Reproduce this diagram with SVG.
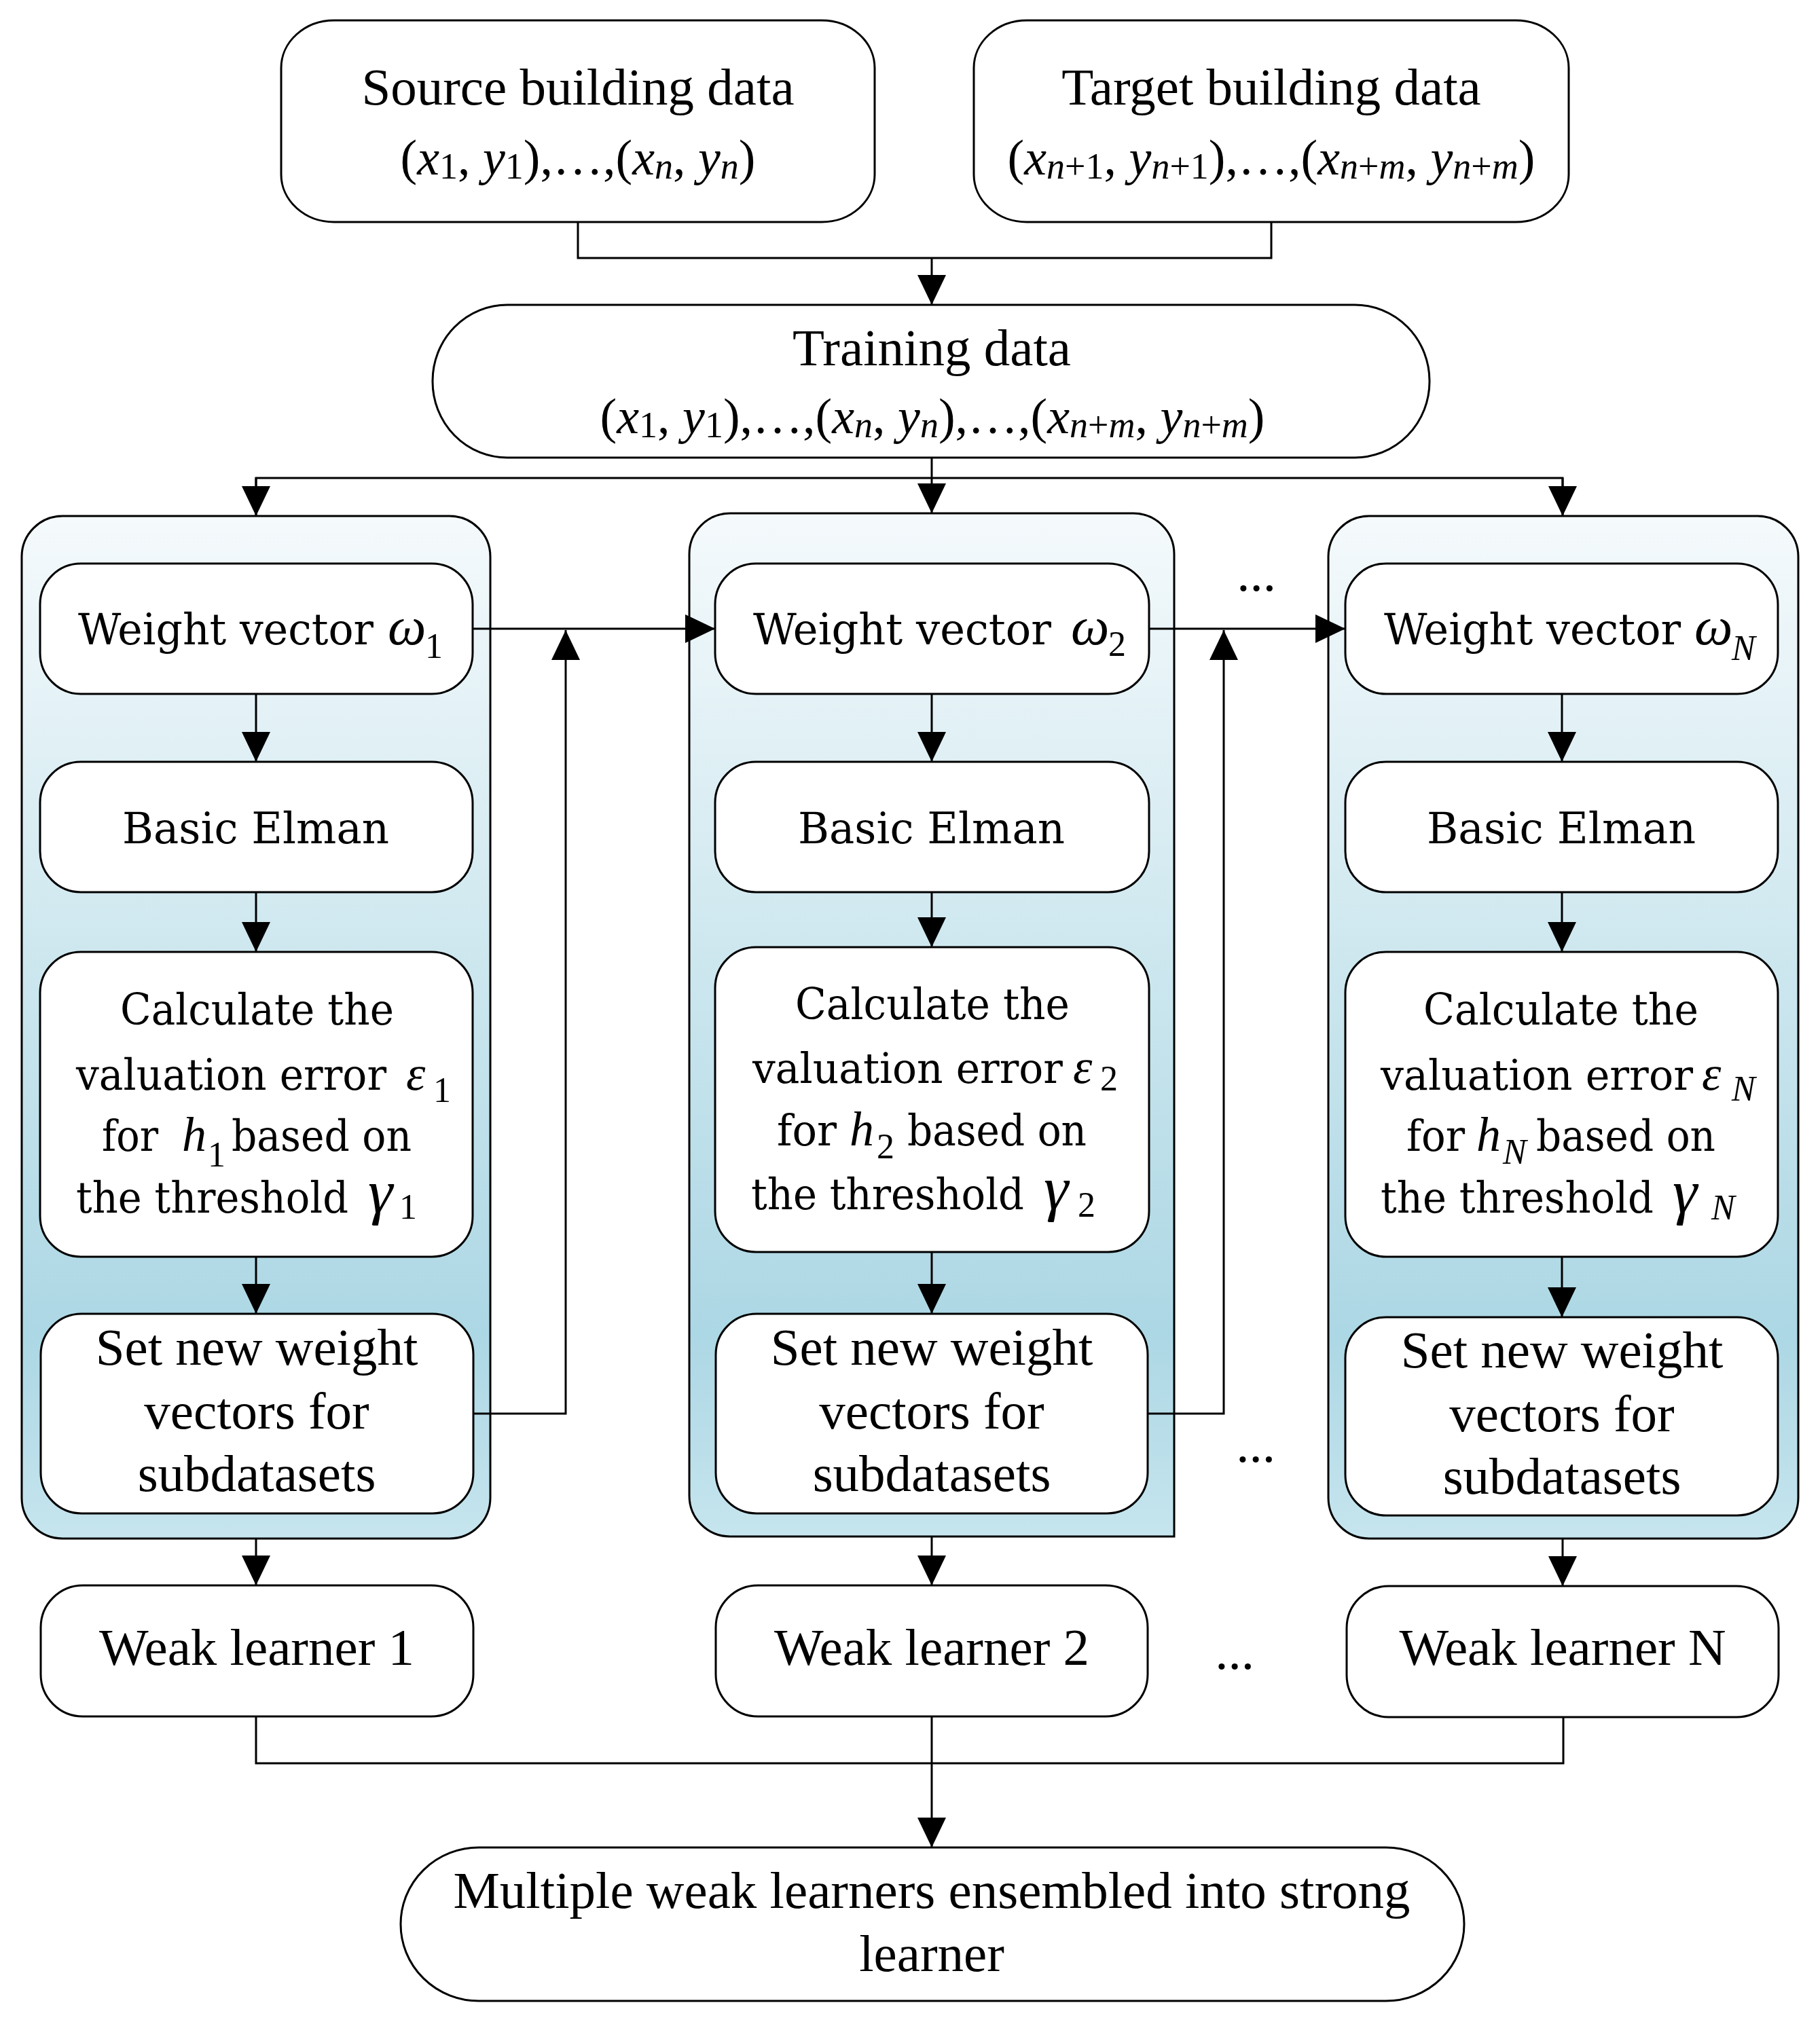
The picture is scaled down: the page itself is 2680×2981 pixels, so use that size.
<svg xmlns="http://www.w3.org/2000/svg" width="2680" height="2981" viewBox="0 0 2680 2981">
<defs>
<linearGradient id="cg" x1="0" y1="0" x2="0" y2="1">
<stop offset="0" stop-color="#f5fafc"/>
<stop offset="0.8" stop-color="#acd7e4"/>
<stop offset="1" stop-color="#c6e5ee"/>
</linearGradient>
<marker id="ah" markerUnits="userSpaceOnUse" markerWidth="46" markerHeight="42" refX="44" refY="21" orient="auto">
<path d="M0,0 L44,21 L0,42 Z" fill="#000"/>
</marker>
<style>
.box{fill:#fff;stroke:#000;stroke-width:3}
.cont{fill:url(#cg);stroke:#000;stroke-width:3}
.ln{fill:none;stroke:#000;stroke-width:3}
.ar{fill:none;stroke:#000;stroke-width:3;marker-end:url(#ah)}
.t{font-family:"Liberation Serif","Times New Roman",serif;font-size:77px;fill:#000;text-anchor:middle}
.m{font-family:"Liberation Serif","Times New Roman",serif;font-size:74px;fill:#000;text-anchor:middle}
.w{font-family:"DejaVu Serif",serif;font-size:64px;fill:#000}
.v{font-family:"DejaVu Serif",serif;font-size:61px;fill:#000}
.g{font-family:"Liberation Serif","Times New Roman",serif;font-style:italic;font-size:80px;fill:#000}
.h{font-family:"Liberation Serif","Times New Roman",serif;font-style:italic;font-size:72px;fill:#000}
.e{font-family:"Liberation Serif","Times New Roman",serif;font-style:italic;font-size:72px;fill:#000}
.gg{font-family:"Liberation Serif","Times New Roman",serif;font-style:italic;font-size:92px;fill:#000}
.s{font-style:normal;font-size:52px}
.si{font-style:italic;font-size:52px}
.i{font-style:italic}
</style>
</defs>
<rect width="2680" height="2981" fill="#fff"/>

<g id="containers">
<rect id="container1" class="cont" x="32" y="760" width="690" height="1506" rx="60" ry="60"/>
<path id="container2" class="cont" d="M1075,756 H1669 A60,60 0 0 1 1729,816 V2263 H1075 A60,60 0 0 1 1015,2203 V816 A60,60 0 0 1 1075,756 Z"/>
<rect id="containerN" class="cont" x="1956" y="760" width="692" height="1506" rx="60" ry="60"/>
</g>

<g id="connectors">
<polyline class="ln" points="851,327 851,380 1872,380 1872,327"/>
<line class="ar" x1="1372" y1="380" x2="1372" y2="449"/>
<line class="ar" x1="1372" y1="674" x2="1372" y2="756"/>
<polyline class="ln" points="377,758 377,704 2301,704 2301,758"/>
<line class="ar" x1="377" y1="704" x2="377" y2="760"/>
<line class="ar" x1="2301" y1="704" x2="2301" y2="760"/>

<line class="ar" x1="377" y1="1022" x2="377" y2="1122"/>
<line class="ar" x1="377" y1="1314" x2="377" y2="1402"/>
<line class="ar" x1="377" y1="1851" x2="377" y2="1935"/>
<line class="ar" x1="377" y1="2266" x2="377" y2="2335"/>

<line class="ar" x1="1372" y1="1022" x2="1372" y2="1122"/>
<line class="ar" x1="1372" y1="1314" x2="1372" y2="1395"/>
<line class="ar" x1="1372" y1="1844" x2="1372" y2="1935"/>
<line class="ar" x1="1372" y1="2263" x2="1372" y2="2335"/>

<line class="ar" x1="2300" y1="1022" x2="2300" y2="1122"/>
<line class="ar" x1="2300" y1="1314" x2="2300" y2="1402"/>
<line class="ar" x1="2300" y1="1851" x2="2300" y2="1940"/>
<line class="ar" x1="2301" y1="2266" x2="2301" y2="2336"/>

<line class="ar" x1="696" y1="926" x2="1053" y2="926"/>
<polyline class="ar" points="697,2082 833,2082 833,928"/>
<line class="ar" x1="1692" y1="926" x2="1981" y2="926"/>
<polyline class="ar" points="1690,2082 1802,2082 1802,928"/>

<polyline class="ln" points="377,2528 377,2597 2302,2597 2302,2529"/>
<line class="ar" x1="1372" y1="2528" x2="1372" y2="2721"/>
</g>

<g id="source">
<rect class="box" x="414" y="30" width="874" height="297" rx="78" ry="70"/>
<text class="t" x="851" y="154">Source building data</text>
<text class="m" x="851" y="257">(<tspan class="i">x</tspan><tspan font-size="54" dy="6">1</tspan><tspan dy="-6">, </tspan><tspan class="i">y</tspan><tspan font-size="54" dy="6">1</tspan><tspan dy="-6">),…,(</tspan><tspan class="i">x</tspan><tspan class="i" font-size="54" dy="6">n</tspan><tspan dy="-6">, </tspan><tspan class="i">y</tspan><tspan class="i" font-size="54" dy="6">n</tspan><tspan dy="-6">)</tspan></text>
</g>

<g id="target">
<rect class="box" x="1434" y="30" width="876" height="297" rx="78" ry="70"/>
<text class="t" x="1872" y="154">Target building data</text>
<text class="m" x="1872" y="257">(<tspan class="i">x</tspan><tspan class="i" font-size="54" dy="6">n</tspan><tspan font-size="54">+1</tspan><tspan dy="-6">, </tspan><tspan class="i">y</tspan><tspan class="i" font-size="54" dy="6">n</tspan><tspan font-size="54">+1</tspan><tspan dy="-6">),…,(</tspan><tspan class="i">x</tspan><tspan class="i" font-size="54" dy="6">n</tspan><tspan font-size="54">+</tspan><tspan class="i" font-size="54">m</tspan><tspan dy="-6">, </tspan><tspan class="i">y</tspan><tspan class="i" font-size="54" dy="6">n</tspan><tspan font-size="54">+</tspan><tspan class="i" font-size="54">m</tspan><tspan dy="-6">)</tspan></text>
</g>

<g id="training">
<rect class="box" x="637" y="449" width="1468" height="225" rx="110" ry="112"/>
<text class="t" x="1372" y="538">Training data</text>
<text class="m" x="1373" y="638">(<tspan class="i">x</tspan><tspan font-size="54" dy="6">1</tspan><tspan dy="-6">, </tspan><tspan class="i">y</tspan><tspan font-size="54" dy="6">1</tspan><tspan dy="-6">),…,(</tspan><tspan class="i">x</tspan><tspan class="i" font-size="54" dy="6">n</tspan><tspan dy="-6">, </tspan><tspan class="i">y</tspan><tspan class="i" font-size="54" dy="6">n</tspan><tspan dy="-6">),…,(</tspan><tspan class="i">x</tspan><tspan class="i" font-size="54" dy="6">n</tspan><tspan font-size="54">+</tspan><tspan class="i" font-size="54">m</tspan><tspan dy="-6">, </tspan><tspan class="i">y</tspan><tspan class="i" font-size="54" dy="6">n</tspan><tspan font-size="54">+</tspan><tspan class="i" font-size="54">m</tspan><tspan dy="-6">)</tspan></text>
</g>

<!-- Column 1 -->
<g id="weight1">
<rect class="box" x="59" y="830" width="637" height="192" rx="60" ry="60"/>
<text class="w" x="115" y="949" textLength="435" lengthAdjust="spacingAndGlyphs">Weight vector</text>
<text class="g" x="571" y="949">ω<tspan class="s" x="626" dy="20">1</tspan></text>
</g>
<g id="elman1">
<rect class="box" x="59" y="1122" width="637" height="192" rx="60" ry="60"/>
<text class="w" x="180" y="1242" textLength="393" lengthAdjust="spacingAndGlyphs">Basic Elman</text>
</g>
<g id="calc1">
<rect class="box" x="59" y="1402" width="637" height="449" rx="60" ry="60"/>
<text class="w" x="177" y="1509" textLength="403" lengthAdjust="spacingAndGlyphs">Calculate the</text>
<text class="w" x="112" y="1605" textLength="457" lengthAdjust="spacingAndGlyphs">valuation error</text>
<text class="e" x="598" y="1605">ε<tspan class="s" x="638" dy="18">1</tspan></text>
<text class="w" x="150" y="1695" textLength="83" lengthAdjust="spacingAndGlyphs">for</text>
<text class="h" x="268" y="1695">h<tspan class="s" x="306" dy="23">1</tspan></text>
<text class="w" x="341" y="1695" textLength="265" lengthAdjust="spacingAndGlyphs">based on</text>
<text class="w" x="112" y="1786" textLength="401" lengthAdjust="spacingAndGlyphs">the threshold</text>
<text class="gg" x="542" y="1786">γ<tspan class="s" x="588" dy="9">1</tspan></text>
</g>
<g id="set1">
<rect class="box" x="60" y="1935" width="637" height="294" rx="60" ry="60"/>
<text class="t" x="378" y="2010">Set new weight</text>
<text class="t" x="378" y="2104">vectors for</text>
<text class="t" x="378" y="2196">subdatasets</text>
</g>
<g id="weak1">
<rect class="box" x="60" y="2335" width="637" height="193" rx="62" ry="62"/>
<text class="t" x="378" y="2452">Weak learner 1</text>
</g>

<!-- Column 2 -->
<g id="weight2">
<rect class="box" x="1053" y="830" width="639" height="192" rx="60" ry="60"/>
<text class="w" x="1109" y="949" textLength="439" lengthAdjust="spacingAndGlyphs">Weight vector</text>
<text class="g" x="1577" y="949">ω<tspan class="s" x="1632" dy="17">2</tspan></text>
</g>
<g id="elman2">
<rect class="box" x="1053" y="1122" width="639" height="192" rx="60" ry="60"/>
<text class="w" x="1175" y="1242" textLength="393" lengthAdjust="spacingAndGlyphs">Basic Elman</text>
</g>
<g id="calc2">
<rect class="box" x="1053" y="1395" width="639" height="449" rx="60" ry="60"/>
<text class="w" x="1171" y="1501" textLength="404" lengthAdjust="spacingAndGlyphs">Calculate the</text>
<text class="v" x="1108" y="1595" textLength="457" lengthAdjust="spacingAndGlyphs">valuation error</text>
<text class="e" x="1580" y="1595">ε<tspan class="s" x="1620" dy="11">2</tspan></text>
<text class="w" x="1144" y="1687" textLength="88" lengthAdjust="spacingAndGlyphs">for</text>
<text class="h" x="1251" y="1687">h<tspan class="s" x="1291" dy="19">2</tspan></text>
<text class="w" x="1336" y="1687" textLength="264" lengthAdjust="spacingAndGlyphs">based on</text>
<text class="w" x="1106" y="1781" textLength="402" lengthAdjust="spacingAndGlyphs">the threshold</text>
<text class="gg" x="1537" y="1781">γ<tspan class="s" x="1587" dy="11">2</tspan></text>
</g>
<g id="set2">
<rect class="box" x="1054" y="1935" width="636" height="294" rx="60" ry="60"/>
<text class="t" x="1372" y="2010">Set new weight</text>
<text class="t" x="1372" y="2104">vectors for</text>
<text class="t" x="1372" y="2196">subdatasets</text>
</g>
<g id="weak2">
<rect class="box" x="1054" y="2335" width="636" height="193" rx="62" ry="62"/>
<text class="t" x="1372" y="2452">Weak learner 2</text>
</g>

<!-- Column N -->
<g id="weightN">
<rect class="box" x="1981" y="830" width="637" height="192" rx="60" ry="60"/>
<text class="w" x="2038" y="949" textLength="437" lengthAdjust="spacingAndGlyphs">Weight vector</text>
<text class="g" x="2495" y="949">ω<tspan class="si" x="2550" dy="23">N</tspan></text>
</g>
<g id="elmanN">
<rect class="box" x="1981" y="1122" width="637" height="192" rx="60" ry="60"/>
<text class="w" x="2101" y="1242" textLength="396" lengthAdjust="spacingAndGlyphs">Basic Elman</text>
</g>
<g id="calcN">
<rect class="box" x="1981" y="1402" width="637" height="449" rx="60" ry="60"/>
<text class="w" x="2096" y="1509" textLength="405" lengthAdjust="spacingAndGlyphs">Calculate the</text>
<text class="v" x="2033" y="1605" textLength="460" lengthAdjust="spacingAndGlyphs">valuation error</text>
<text class="e" x="2506" y="1605">ε<tspan class="si" x="2550" dy="16">N</tspan></text>
<text class="w" x="2071" y="1695" textLength="86" lengthAdjust="spacingAndGlyphs">for</text>
<text class="h" x="2174" y="1695">h<tspan class="si" x="2213" dy="19">N</tspan></text>
<text class="w" x="2262" y="1695" textLength="264" lengthAdjust="spacingAndGlyphs">based on</text>
<text class="w" x="2033" y="1786" textLength="402" lengthAdjust="spacingAndGlyphs">the threshold</text>
<text class="gg" x="2463" y="1786">γ<tspan class="si" x="2520" dy="10">N</tspan></text>
</g>
<g id="setN">
<rect class="box" x="1981" y="1940" width="637" height="292" rx="60" ry="60"/>
<text class="t" x="2300" y="2014">Set new weight</text>
<text class="t" x="2300" y="2108">vectors for</text>
<text class="t" x="2300" y="2200">subdatasets</text>
</g>
<g id="weakN">
<rect class="box" x="1983" y="2336" width="636" height="193" rx="62" ry="62"/>
<text class="t" x="2301" y="2452">Weak learner N</text>
</g>

<g id="ellipses">
<text class="t" x="1850" y="870">...</text>
<text class="t" x="1849" y="2153">...</text>
<text class="t" x="1818" y="2458">...</text>
</g>

<g id="ensemble">
<rect class="box" x="590" y="2721" width="1566" height="226" rx="115" ry="113"/>
<text class="t" x="1372" y="2810">Multiple weak learners ensembled into strong</text>
<text class="t" x="1372" y="2903">learner</text>
</g>
</svg>
